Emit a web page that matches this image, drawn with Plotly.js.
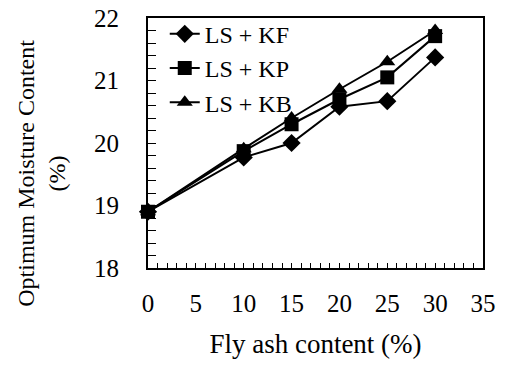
<!DOCTYPE html>
<html>
<head>
<meta charset="utf-8">
<script src="https://cdn.plot.ly/plotly-3.0.1.min.js"></script>
<style>html,body{margin:0;padding:0;background:#fff;}#chart{width:506px;height:366px;}</style>
</head>
<body>
<div id="chart"></div>
<script>
const flyAsh = [0, 10, 15, 20, 25, 30];
const seriesNames = ["LS + KF", "LS + KP", "LS + KB"];
const lsKF = [18.9, 19.77, 20.0, 20.58, 20.67, 21.37];
const lsKP = [18.9, 19.87, 20.3, 20.7, 21.05, 21.71];
const lsKB = [18.9, 19.91, 20.4, 20.86, 21.3, 21.8];
const xTicks = [0, 5, 10, 15, 20, 25, 30, 35];
const yTicks = [18, 19, 20, 21, 22];

const serif = "Liberation Serif, Times New Roman, serif";
const symbols = ["diamond", "square", "triangle-up"];
const sizes = [14, 14, 14];
const ys = [lsKF, lsKP, lsKB];

const traces = ys.map((y, i) => ({
  type: "scatter",
  mode: "lines+markers",
  name: seriesNames[i],
  x: flyAsh,
  y: y,
  cliponaxis: false,
  line: {color: "#000", width: 2},
  marker: {symbol: symbols[i], size: sizes[i], color: "#000"}
}));

const layout = {
  width: 506, height: 366,
  margin: {l: 148, r: 23, t: 15, b: 98},
  paper_bgcolor: "#fff", plot_bgcolor: "#fff",
  font: {family: serif, color: "#000", size: 24},
  showlegend: true,
  legend: {
    x: 0.05, y: 1.025, xanchor: "left", yanchor: "top",
    bgcolor: "rgba(0,0,0,0)", borderwidth: 0,
    font: {family: serif, size: 24, color: "#000"},
    tracegroupgap: 0
  },
  xaxis: {
    range: [0, 35],
    tickvals: xTicks,
    ticktext: xTicks.map(String),
    ticks: "inside", ticklen: 5, tickwidth: 1, tickcolor: "#000",
    minor: {dtick: 1, ticks: "inside", ticklen: 5, tickwidth: 1, tickcolor: "#000"},
    showline: true, linecolor: "#000", linewidth: 2, mirror: true,
    showgrid: false, zeroline: false,
    tickfont: {family: serif, size: 25, color: "#000"},
    ticklabelstandoff: 12,
    title: {text: "Fly ash content (%)", font: {family: serif, size: 27, color: "#000"}, standoff: 18}
  },
  yaxis: {
    range: [18, 22],
    tickvals: yTicks,
    ticktext: yTicks.map(String),
    ticks: "inside", ticklen: 8, tickwidth: 1, tickcolor: "#000",
    minor: {dtick: 0.2, ticks: "inside", ticklen: 8, tickwidth: 1, tickcolor: "#000"},
    showline: true, linecolor: "#000", linewidth: 2, mirror: true,
    showgrid: false, zeroline: false,
    tickfont: {family: serif, size: 25, color: "#000"},
    ticklabelstandoff: 22
  },
  annotations: [{
    text: "Optimum Moisture Content<br>(%)",
    xref: "paper", yref: "paper",
    x: -0.318, y: 0.379, xanchor: "center", yanchor: "middle",
    textangle: -90, showarrow: false,
    font: {family: serif, size: 24, color: "#000"}
  }]
};

Plotly.newPlot("chart", traces, layout, {displayModeBar: false, staticPlot: true});
</script>
</body>
</html>
